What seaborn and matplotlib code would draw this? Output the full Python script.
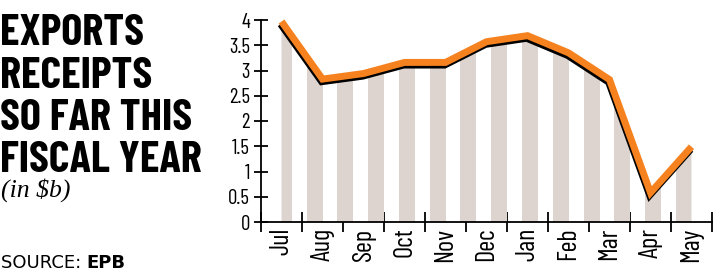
import numpy as np
import pandas as pd
import matplotlib
matplotlib.use("Agg")
import matplotlib.pyplot as plt
import matplotlib.patheffects as pe
from matplotlib import font_manager
import seaborn as sns

# ---- data ----
months = ["Jul", "Aug", "Sep", "Oct", "Nov", "Dec", "Jan", "Feb", "Mar", "Apr", "May"]
receipts = [3.97, 2.83, 2.94, 3.16, 3.16, 3.57, 3.69, 3.35, 2.82, 0.58, 1.49]
y_ticks = [0, 0.5, 1, 1.5, 2, 2.5, 3, 3.5, 4]
y_tick_labels = ["0", "0.5", "1", "1.5", "2", "2.5", "3", "3.5", "4"]
title_lines = ["EXPORTS", "RECEIPTS", "SO FAR THIS", "FISCAL YEAR"]
subtitle = "(in $b)"
source_label = "SOURCE: "
source_name = "EPB"

sns.set_theme(style="white")
available = {f.name for f in font_manager.fontManager.ttflist}
cond = "Barlow Condensed" if "Barlow Condensed" in available else "DejaVu Sans"
plt.rcParams["font.family"] = [cond, "DejaVu Sans"]
plt.rcParams["text.color"] = "black"
plt.rcParams["xtick.color"] = "black"
plt.rcParams["ytick.color"] = "black"

W, H = 727, 276
fig = plt.figure(figsize=(W / 100, H / 100), dpi=100)
fig.patch.set_facecolor("white")
ax = fig.add_axes([261 / W, 1 - 222 / H, (712 - 261) / W, (222 - 20) / H])

x = np.arange(len(months))
df = pd.DataFrame({"pos": x, "value": receipts})

# striped area under the line
poly = ax.fill_between(x, 0, receipts, color="none", lw=0)
stripe_left = np.linspace(-0.14, 9.62, 14)
bars = ax.bar(stripe_left, 4, width=0.39, align="edge", color="#ddd4d0", lw=0, zorder=1)
clip_path = poly.get_paths()[0]
for b in bars:
    b.set_clip_path(clip_path, ax.transData)

sns.lineplot(
    data=df, x="pos", y="value", ax=ax, color="#f5821f", linewidth=5,
    solid_joinstyle="miter", solid_capstyle="butt", clip_on=False, zorder=5,
    path_effects=[pe.SimpleLineShadow(offset=(-0.6, -1.9), shadow_color="black", alpha=1.0),
                  pe.Normal()],
)

ax.set_xlim(-0.5, len(months) - 0.5)
ax.set_ylim(0, 4)
ax.set_xlabel("")
ax.set_ylabel("")
ax.set_xticks(x, months, rotation=90)
ax.set_xticks(np.arange(-0.5, len(months), 1), minor=True)
ax.set_yticks(y_ticks, y_tick_labels)

ax.tick_params(axis="x", which="major", bottom=True, length=0, pad=4, labelsize=19)
ax.tick_params(axis="x", which="minor", bottom=True, length=14, width=1.3,
               direction="inout", color="black")
ax.tick_params(axis="y", which="major", left=True, length=10, width=1.3,
               direction="inout", color="black", labelsize=15, pad=3)

for s in ["top", "right"]:
    ax.spines[s].set_visible(False)
for s in ["left", "bottom"]:
    ax.spines[s].set_color("black")
    ax.spines[s].set_linewidth(1.3)
ax.set_facecolor("white")

# ---- titles ----
baselines = [45, 88, 130, 172]
for line, bl in zip(title_lines, baselines):
    fig.text(0.0, 1 - bl / H, line, fontsize=32, fontweight="bold",
             family=[cond, "DejaVu Sans"], ha="left", va="baseline")

fig.text(0.002, 1 - 197 / H, subtitle, fontsize=18.5, style="italic",
         family=["Liberation Serif", "DejaVu Serif"], ha="left", va="baseline")

t = fig.text(0.001, 1 - 268 / H, source_label, fontsize=13,
             family=["DejaVu Sans"], ha="left", va="baseline")
ax.annotate(source_name, xy=(1, 0), xycoords=t, fontsize=13, fontweight="bold",
            family=["DejaVu Sans"], ha="left", va="bottom", annotation_clip=False)

fig.savefig("out.png", dpi=100, facecolor="white")
